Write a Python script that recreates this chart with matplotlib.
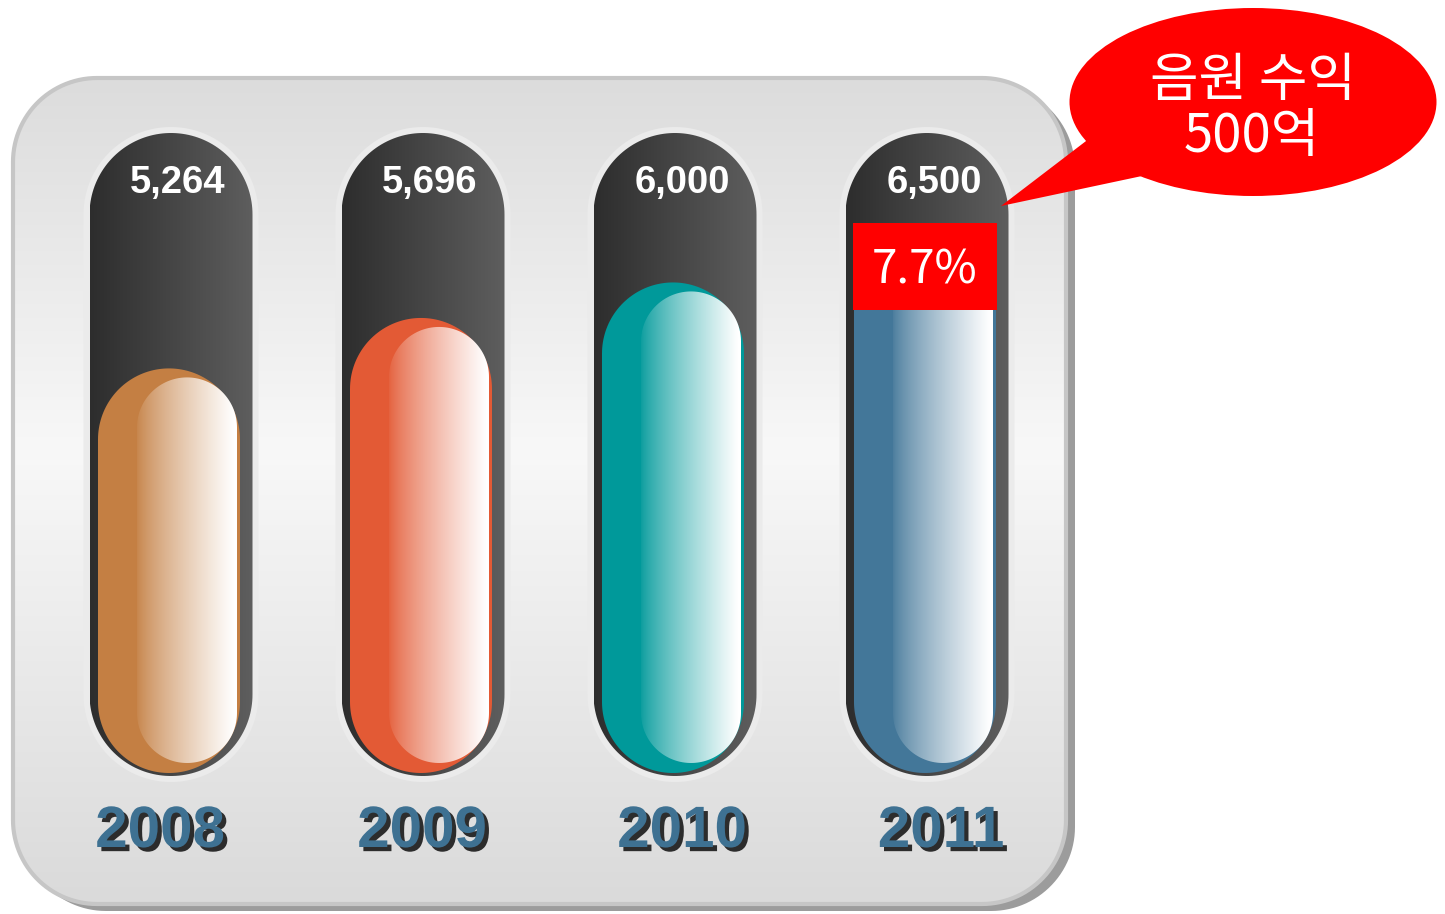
import numpy as np
import matplotlib.pyplot as plt
import matplotlib.patheffects as pe
from matplotlib.patches import Ellipse, Polygon, Rectangle
from matplotlib.colors import LinearSegmentedColormap

# data
years = ['2008', '2009', '2010', '2011']
values = [5264, 5696, 6000, 6500]
value_labels = ['5,264', '5,696', '6,000', '6,500']
fill_colors = ['#c47f43', '#e35a35', '#00999a', '#437799']
growth_label = '7.7%'
callout_lines = ['음원 수익', '500억']

# layout (pixel space, y grows downwards)
W, H = 1445, 914
x_first, x_step = 171, 252
tube_w, tube_top, tube_bot = 163, 133, 776
fill_bot, fill_hw = 773, 71
v0, k = 1800, 0.1168          # value -> pixel height of the liquid
year_dx = [-11, -1, 7, 14]


def val_to_px(v):
    return fill_bot - (v - v0) * k


def pill_xy(x0, y0, w, h, n=80):
    r = w / 2.0
    cx = x0 + r
    th = np.linspace(0, np.pi, n)
    top = np.column_stack([cx + r * np.cos(th), y0 + r - r * np.sin(th)])
    bot = np.column_stack([cx - r * np.cos(th), y0 + h - r + r * np.sin(th)])
    return np.vstack([top, bot])


def rrect_xy(x0, y0, x1, y1, r, n=30):
    th = np.linspace(0, np.pi / 2, n)
    pts = []
    # corners: top-right, top-left, bottom-left, bottom-right (y down)
    for cx, cy, a0 in [(x1 - r, y0 + r, 0), (x0 + r, y0 + r, np.pi / 2),
                       (x0 + r, y1 - r, np.pi), (x1 - r, y1 - r, 1.5 * np.pi)]:
        a = a0 + th
        pts.append(np.column_stack([cx + r * np.cos(a), cy - r * np.sin(a)]))
    return np.vstack(pts)


def shape(xy, **kw):
    p = Polygon(xy, closed=True, **kw)
    ax.add_patch(p)
    return p


def grad(clip, x0, x1, y0, y1, arr, z):
    im = ax.imshow(arr, extent=(x0, x1, y1, y0), aspect='auto',
                   interpolation='bilinear', zorder=z)
    im.set_clip_path(clip)


fig = plt.figure(figsize=(W / 100, H / 100), dpi=100)
ax = fig.add_axes([0, 0, 1, 1])
fig.patch.set_facecolor('white')

# panel with shadow and vertical gradient
px0, py0, px1, py1 = 13, 78, 1066, 904
shape(rrect_xy(px0 + 9, py0 + 7, px1 + 9, py1 + 7, 84), fc='#9c9c9c', ec='none', zorder=1)
panel = shape(rrect_xy(px0, py0, px1, py1, 84), fc='none', ec='none', zorder=2)
panel_cmap = LinearSegmentedColormap.from_list(
    'panel', [(0, '#dcdcdc'), (0.45, '#f8f8f8'), (1, '#dadada')])
grad(panel, px0, px1, py0, py1, panel_cmap(np.linspace(0, 1, 256)).reshape(256, 1, 4), 2)
shape(rrect_xy(px0, py0, px1, py1, 84), fc='none', ec='#c6c6c6', lw=3, zorder=3)

dark_cmap = LinearSegmentedColormap.from_list('dark', ['#2d2d2d', '#5e5e5e'])
dark_arr = dark_cmap(np.linspace(0, 1, 256)).reshape(1, 256, 4)
t = np.linspace(0, 1, 256)
hi_arr = np.ones((1, 256, 4))
hi_arr[0, :, 3] = np.clip(0.05 + 0.98 * t ** 0.8, 0, 1)

for i, (yr, v, lab, col) in enumerate(zip(years, values, value_labels, fill_colors)):
    cx = x_first + i * x_step
    tx0 = cx - tube_w / 2.0
    # halo
    shape(pill_xy(tx0 - 6, tube_top - 6, tube_w + 12, tube_bot - tube_top + 12),
          fc='#ebebeb', ec='none', zorder=4)
    # dark tube
    tube = shape(pill_xy(tx0, tube_top, tube_w, tube_bot - tube_top),
                 fc='none', ec='none', zorder=5)
    grad(tube, tx0, tx0 + tube_w, tube_top, tube_bot, dark_arr, 5)

    # liquid
    fcx = cx - 2
    ftop = val_to_px(v)
    shape(pill_xy(fcx - fill_hw, ftop, 2 * fill_hw, fill_bot - ftop),
          fc=col, ec='none', zorder=6)
    # highlight
    hx1 = fcx + fill_hw - 3
    hx0 = hx1 - 100
    htop, hbot = ftop + 9, fill_bot - 10
    hl = shape(pill_xy(hx0, htop, hx1 - hx0, hbot - htop), fc='none', ec='none', zorder=7)
    grad(hl, hx0, hx1, htop, hbot, hi_arr, 7)

    ax.text(cx + 7, 183, lab, color='white', fontsize=27.5, fontweight='bold',
            family='Liberation Sans', ha='center', va='center', zorder=10)
    ax.text(cx + year_dx[i], 832, yr, color='#3e7192', fontsize=42, fontweight='bold',
            family='Liberation Sans', ha='center', va='center', zorder=10,
            path_effects=[pe.withSimplePatchShadow(offset=(3, -3),
                                                   shadow_rgbFace='black', alpha=0.8)])

# growth box on the last tube
cx = x_first + (len(years) - 1) * x_step - 2
btop = val_to_px(values[-1]) - 1
ax.add_patch(Rectangle((cx - fill_hw - 1, btop), 2 * fill_hw + 2, 310 - btop,
                       fc='#ff0000', ec='none', zorder=8))
ax.text(cx, 270, growth_label, color='white', fontsize=33,
        family=['Noto Sans CJK KR', 'DejaVu Sans'], ha='center', va='center', zorder=10)

# callout
ax.add_patch(Polygon([(1090, 138), (1001, 206), (1142, 176)], closed=True,
                     fc='#ff0000', ec='none', zorder=11))
ax.add_patch(Ellipse((1253, 102), 367, 188, fc='#ff0000', ec='none', zorder=11))
ax.text(1253, 80, callout_lines[0], color='white', fontsize=38,
        family=['Noto Sans CJK KR', 'DejaVu Sans'], ha='center', va='center', zorder=12)
ax.text(1252, 136, callout_lines[1], color='white', fontsize=38,
        family=['Noto Sans CJK KR', 'DejaVu Sans'], ha='center', va='center', zorder=12)

ax.set_xlim(0, W)
ax.set_ylim(H, 0)
ax.axis('off')
fig.savefig('out.png', dpi=100)
